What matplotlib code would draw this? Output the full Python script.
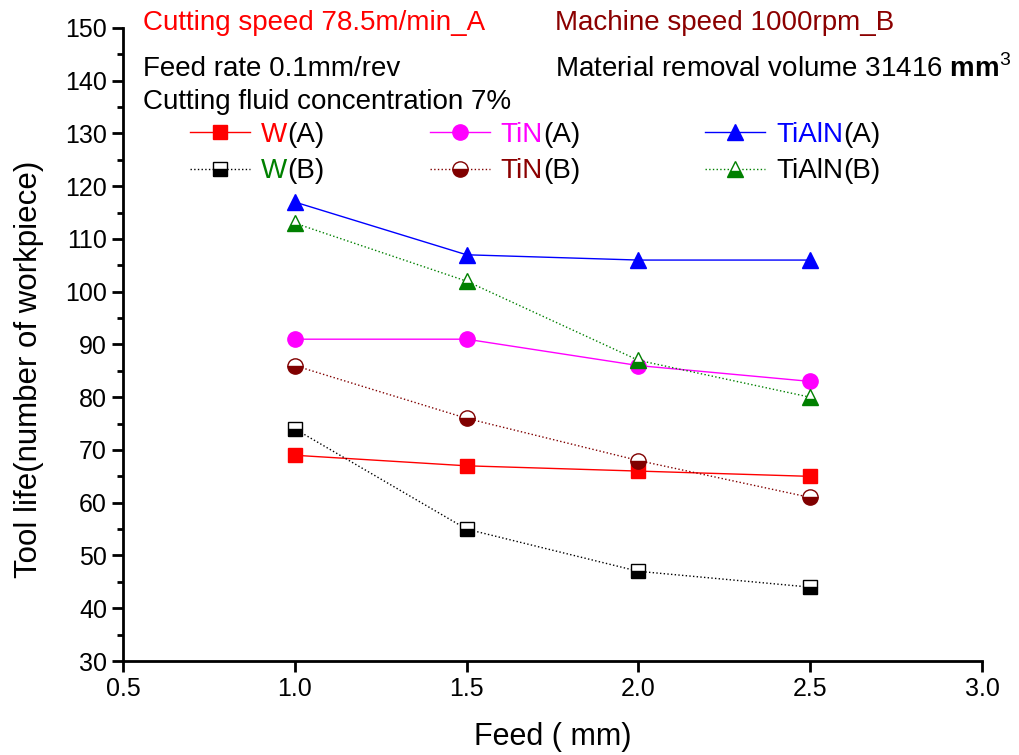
import numpy as np
import matplotlib.pyplot as plt
from matplotlib.ticker import MultipleLocator
from matplotlib.transforms import IdentityTransform

plt.rcParams['font.family'] = ['Liberation Sans', 'DejaVu Sans']
plt.rcParams['mathtext.fontset'] = 'custom'
plt.rcParams['mathtext.rm'] = 'Liberation Sans'
plt.rcParams['mathtext.bf'] = 'Liberation Sans:bold'

feed = [1.0, 1.5, 2.0, 2.5]
w_a = [69, 67, 66, 65]
tin_a = [91, 91, 86, 83]
tialn_a = [117, 107, 106, 106]
w_b = [74, 55, 47, 44]
tin_b = [86, 76, 68, 61]
tialn_b = [113, 102, 87, 80]

fig = plt.figure(figsize=(10.19, 7.55), dpi=100)
ax = fig.add_axes([0.1207, 0.1245, 0.843, 0.8385])

h1, = ax.plot(feed, w_a, '-', color='#FF0000', marker='s', ms=10, lw=1)
h2, = ax.plot(feed, tin_a, '-', color='#FF00FF', marker='o', ms=11, lw=1)
h3, = ax.plot(feed, tialn_a, '-', color='#0000FF', marker='^', ms=12, lw=1)
h4, = ax.plot(feed, w_b, ':', color='black', marker='s', ms=10, lw=1,
              fillstyle='bottom', markerfacecoloralt='white', mec='black')
h5, = ax.plot(feed, tin_b, ':', color='#800000', marker='o', ms=11, lw=1,
              fillstyle='bottom', markerfacecoloralt='white', mec='#800000')
h6, = ax.plot(feed, tialn_b, ':', color='#008000', marker='^', ms=12, lw=1,
              fillstyle='bottom', markerfacecoloralt='white', mec='#008000')

ax.set_xlim(0.5, 3.0)
ax.set_ylim(30, 150)
ax.xaxis.set_major_locator(MultipleLocator(0.5))
ax.yaxis.set_major_locator(MultipleLocator(10))
ax.yaxis.set_minor_locator(MultipleLocator(5))
ax.spines['top'].set_visible(False)
ax.spines['right'].set_visible(False)
for s in ['left', 'bottom']:
    ax.spines[s].set_linewidth(2)
ax.tick_params(which='major', direction='out', length=8, width=2, labelsize=18)
ax.tick_params(which='minor', direction='out', length=4, width=2)
ax.xaxis.set_major_formatter(plt.FormatStrFormatter('%.1f'))
ax.set_xlabel('Feed ( mm)', fontsize=22, labelpad=15)
ax.set_ylabel('Tool life(number of workpiece)', fontsize=22.5)
ax.yaxis.set_label_coords(-0.092, 0.461)

fig.text(0.140, 0.969, 'Cutting speed 78.5m/min_A', color='#FF0000', fontsize=20, va='center')
fig.text(0.545, 0.969, 'Machine speed 1000rpm_B', color='#8B0000', fontsize=20, va='center')
fig.text(0.140, 0.909, 'Feed rate 0.1mm/rev', color='black', fontsize=20, va='center')
fig.text(0.545, 0.909, r'Material removal volume 31416 $\mathbf{mm}^3$', color='black', fontsize=20, va='center')
fig.text(0.140, 0.865, 'Cutting fluid concentration 7%', color='black', fontsize=20, va='center')

# legend: one legend per column, prefix coloured, suffix black
columns = [([h1, h4], ['W', 'W'], ['#FF0000', '#008000'], 0.1865),
           ([h2, h5], ['TiN', 'TiN'], ['#FF00FF', '#8B0000'], 0.422),
           ([h3, h6], ['TiAlN', 'TiAlN'], ['#0000FF', 'black'], 0.692)]
suffixes = ['(A)', '(B)']
legends = []
for hs, labels, colors, xpos in columns:
    leg = fig.legend(hs, labels, frameon=False, fontsize=20, loc='center left',
                     bbox_to_anchor=(xpos, 0.797), borderpad=0, borderaxespad=0,
                     handlelength=2.15, handletextpad=0.4, labelspacing=0.37)
    for t, c in zip(leg.get_texts(), colors):
        t.set_color(c)
    legends.append(leg)

fig.canvas.draw()
for leg in legends:
    for t, suf in zip(leg.get_texts(), suffixes):
        bb = t.get_window_extent()
        fig.text(bb.x1, bb.y0, suf, transform=IdentityTransform(),
                 fontsize=20, color='black', va='bottom', ha='left')

fig.savefig('out.png', dpi=100)
